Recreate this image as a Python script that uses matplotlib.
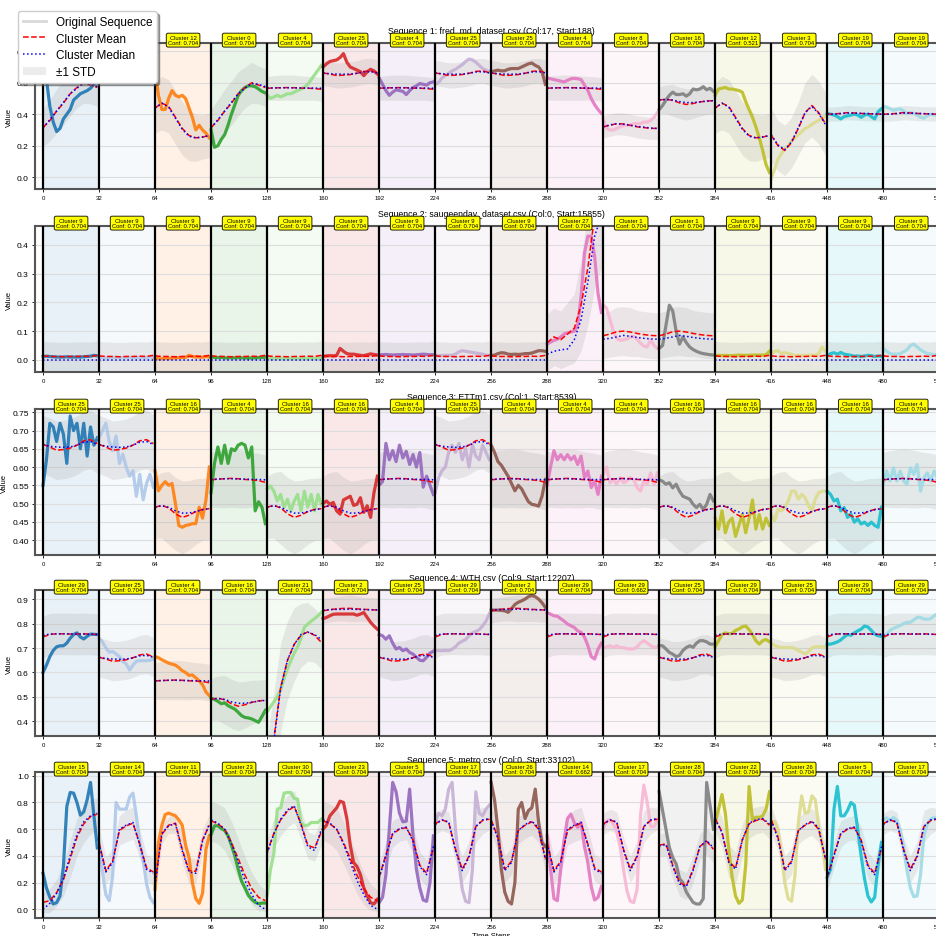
import numpy as np
import matplotlib
matplotlib.use("Agg")
import matplotlib.pyplot as plt
from matplotlib.lines import Line2D
from matplotlib.patches import Patch

plt.rcParams["font.family"] = ["Liberation Sans", "DejaVu Sans"]

seg_len = 32
n_segs = 16

seq_titles = [
    "Sequence 1: fred_md_dataset.csv (Col:17, Start:188)",
    "Sequence 2: saugeenday_dataset.csv (Col:0, Start:15855)",
    "Sequence 3: ETTm1.csv (Col:1, Start:8539)",
    "Sequence 4: WTH.csv (Col:9, Start:12207)",
    "Sequence 5: metro.csv (Col:0, Start:33102)",
]

clusters_1 = [0, 29, 12, 0, 4, 25, 4, 25, 25, 4, 8, 16, 12, 3, 19, 19]
clusters_2 = [9, 9, 9, 9, 9, 9, 9, 9, 9, 27, 1, 1, 9, 9, 9, 9]
clusters_3 = [25, 25, 16, 4, 16, 16, 4, 25, 4, 4, 4, 16, 16, 16, 16, 4]
clusters_4 = [29, 25, 4, 16, 21, 2, 25, 29, 2, 29, 29, 25, 29, 25, 29, 29]
clusters_5 = [15, 14, 11, 23, 30, 23, 5, 17, 26, 14, 17, 28, 22, 26, 5, 17]

conf_1 = [0.704] * 12 + [0.521, 0.704, 0.704, 0.704]
conf_2 = [0.704] * 16
conf_3 = [0.704] * 16
conf_4 = [0.704] * 10 + [0.662] + [0.704] * 5
conf_5 = [0.704] * 9 + [0.662] + [0.704] * 6

# original sequences, 17 samples per 32-step window
orig_1 = [
    [0.80, 0.62, 0.45, 0.35, 0.29, 0.31, 0.37, 0.40, 0.43, 0.49, 0.51, 0.53, 0.54, 0.55, 0.565, 0.59, 0.63],
    [0.66, 0.68, 0.70, 0.72, 0.74, 0.73, 0.75, 0.76, 0.74, 0.72, 0.71, 0.73, 0.75, 0.76, 0.74, 0.72, 0.71],
    [0.68, 0.52, 0.43, 0.43, 0.50, 0.55, 0.52, 0.51, 0.52, 0.50, 0.44, 0.38, 0.30, 0.33, 0.30, 0.28, 0.25],
    [0.30, 0.19, 0.20, 0.24, 0.27, 0.33, 0.40, 0.46, 0.52, 0.55, 0.57, 0.58, 0.58, 0.575, 0.56, 0.545, 0.535],
    [0.52, 0.50, 0.51, 0.52, 0.51, 0.52, 0.53, 0.53, 0.54, 0.55, 0.56, 0.57, 0.59, 0.62, 0.65, 0.68, 0.71],
    [0.70, 0.72, 0.735, 0.74, 0.745, 0.76, 0.785, 0.73, 0.70, 0.69, 0.68, 0.67, 0.645, 0.67, 0.685, 0.675, 0.655],
    [0.63, 0.59, 0.55, 0.52, 0.54, 0.555, 0.55, 0.545, 0.525, 0.55, 0.57, 0.58, 0.595, 0.59, 0.585, 0.60, 0.605],
    [0.59, 0.60, 0.63, 0.645, 0.66, 0.675, 0.685, 0.70, 0.715, 0.735, 0.75, 0.745, 0.73, 0.71, 0.69, 0.68, 0.67],
    [0.67, 0.675, 0.68, 0.675, 0.676, 0.685, 0.69, 0.69, 0.69, 0.70, 0.71, 0.72, 0.725, 0.71, 0.70, 0.67, 0.59],
    [0.63, 0.625, 0.62, 0.615, 0.61, 0.605, 0.615, 0.625, 0.628, 0.625, 0.62, 0.585, 0.55, 0.50, 0.46, 0.43, 0.405],
    [0.37, 0.31, 0.30, 0.30, 0.31, 0.32, 0.33, 0.33, 0.33, 0.34, 0.34, 0.34, 0.35, 0.35, 0.36, 0.38, 0.41],
    [0.43, 0.455, 0.49, 0.52, 0.54, 0.525, 0.525, 0.53, 0.515, 0.53, 0.56, 0.555, 0.56, 0.575, 0.555, 0.565, 0.545],
    [0.52, 0.56, 0.565, 0.57, 0.56, 0.56, 0.555, 0.55, 0.54, 0.48, 0.43, 0.38, 0.32, 0.25, 0.17, 0.08, 0.03],
    [-0.01, 0.05, 0.115, 0.15, 0.18, 0.20, 0.23, 0.25, 0.27, 0.29, 0.31, 0.32, 0.335, 0.35, 0.36, 0.375, 0.39],
    [0.405, 0.40, 0.395, 0.385, 0.37, 0.385, 0.39, 0.395, 0.40, 0.395, 0.38, 0.395, 0.40, 0.385, 0.37, 0.415, 0.435],
    [0.45, 0.445, 0.435, 0.425, 0.43, 0.435, 0.42, 0.405, 0.41, 0.405, 0.395, 0.38, 0.375, 0.39, 0.40, 0.395, 0.395],
]
orig_2 = [
    [0.012, 0.013, 0.012, 0.011, 0.010, 0.010, 0.010, 0.011, 0.010, 0.010, 0.010, 0.010, 0.011, 0.012, 0.013, 0.016, 0.014],
    [0.008, 0.008, 0.007, 0.008, 0.008, 0.009, 0.008, 0.008, 0.008, 0.009, 0.008, 0.008, 0.008, 0.009, 0.008, 0.010, 0.009],
    [0.005, 0.004, 0.004, 0.005, 0.005, 0.006, 0.007, 0.008, 0.008, 0.009, 0.016, 0.012, 0.010, 0.010, 0.009, 0.012, 0.010],
    [0.010, 0.009, 0.008, 0.009, 0.007, 0.007, 0.008, 0.007, 0.008, 0.007, 0.007, 0.006, 0.007, 0.007, 0.008, 0.009, 0.009],
    [0.006, 0.005, 0.005, 0.005, 0.005, 0.004, 0.004, 0.005, 0.005, 0.004, 0.004, 0.005, 0.005, 0.005, 0.005, 0.006, 0.006],
    [0.012, 0.014, 0.015, 0.014, 0.016, 0.040, 0.030, 0.022, 0.020, 0.020, 0.018, 0.016, 0.015, 0.018, 0.021, 0.019, 0.017],
    [0.018, 0.018, 0.019, 0.018, 0.017, 0.018, 0.018, 0.019, 0.018, 0.018, 0.017, 0.018, 0.019, 0.020, 0.019, 0.018, 0.018],
    [0.016, 0.015, 0.015, 0.016, 0.016, 0.016, 0.020, 0.028, 0.032, 0.030, 0.028, 0.026, 0.024, 0.022, 0.020, 0.017, 0.015],
    [0.015, 0.017, 0.022, 0.025, 0.024, 0.020, 0.019, 0.020, 0.019, 0.020, 0.022, 0.022, 0.024, 0.028, 0.032, 0.032, 0.030],
    [0.055, 0.062, 0.068, 0.072, 0.080, 0.090, 0.094, 0.097, 0.100, 0.120, 0.220, 0.370, 0.430, 0.430, 0.360, 0.230, 0.165],
    [0.190, 0.180, 0.140, 0.100, 0.075, 0.068, 0.070, 0.073, 0.080, 0.082, 0.073, 0.058, 0.048, 0.045, 0.070, 0.050, 0.040],
    [0.040, 0.050, 0.120, 0.190, 0.170, 0.100, 0.055, 0.080, 0.060, 0.045, 0.036, 0.030, 0.025, 0.022, 0.020, 0.018, 0.017],
    [0.015, 0.016, 0.015, 0.016, 0.015, 0.015, 0.016, 0.017, 0.016, 0.016, 0.016, 0.017, 0.017, 0.017, 0.017, 0.018, 0.030],
    [0.020, 0.030, 0.032, 0.022, 0.025, 0.022, 0.020, 0.015, 0.016, 0.015, 0.016, 0.016, 0.017, 0.016, 0.022, 0.045, 0.030],
    [0.015, 0.022, 0.025, 0.020, 0.026, 0.020, 0.018, 0.016, 0.013, 0.014, 0.012, 0.014, 0.016, 0.015, 0.012, 0.014, 0.012],
    [0.040, 0.030, 0.022, 0.020, 0.020, 0.022, 0.028, 0.035, 0.050, 0.055, 0.045, 0.035, 0.028, 0.022, 0.020, 0.018, 0.020],
]
orig_3 = [
    [0.55, 0.62, 0.72, 0.71, 0.67, 0.72, 0.69, 0.61, 0.74, 0.70, 0.72, 0.65, 0.72, 0.63, 0.71, 0.66, 0.68],
    [0.68, 0.70, 0.72, 0.67, 0.645, 0.685, 0.61, 0.635, 0.60, 0.575, 0.59, 0.52, 0.58, 0.51, 0.555, 0.58, 0.545],
    [0.59, 0.535, 0.55, 0.56, 0.55, 0.555, 0.50, 0.44, 0.435, 0.44, 0.442, 0.445, 0.445, 0.49, 0.46, 0.51, 0.60],
    [0.53, 0.61, 0.655, 0.61, 0.66, 0.61, 0.65, 0.645, 0.66, 0.665, 0.66, 0.625, 0.655, 0.48, 0.505, 0.49, 0.445],
    [0.54, 0.548, 0.534, 0.507, 0.525, 0.489, 0.512, 0.48, 0.507, 0.525, 0.48, 0.534, 0.49, 0.525, 0.48, 0.525, 0.498],
    [0.50, 0.507, 0.498, 0.503, 0.48, 0.471, 0.51, 0.515, 0.52, 0.495, 0.498, 0.516, 0.476, 0.494, 0.462, 0.53, 0.575],
    [0.55, 0.56, 0.665, 0.62, 0.645, 0.615, 0.66, 0.625, 0.643, 0.607, 0.634, 0.60, 0.64, 0.545, 0.575, 0.55, 0.525],
    [0.53, 0.57, 0.59, 0.60, 0.64, 0.66, 0.64, 0.665, 0.62, 0.65, 0.60, 0.66, 0.63, 0.62, 0.66, 0.64, 0.62],
    [0.66, 0.64, 0.615, 0.605, 0.59, 0.575, 0.555, 0.535, 0.55, 0.54, 0.522, 0.505, 0.498, 0.496, 0.493, 0.52, 0.566],
    [0.55, 0.60, 0.645, 0.62, 0.634, 0.62, 0.634, 0.62, 0.63, 0.607, 0.63, 0.571, 0.589, 0.544, 0.562, 0.525, 0.575],
    [0.58, 0.60, 0.557, 0.566, 0.553, 0.571, 0.557, 0.562, 0.571, 0.566, 0.544, 0.534, 0.562, 0.553, 0.584, 0.553, 0.584],
    [0.565, 0.561, 0.553, 0.557, 0.543, 0.553, 0.534, 0.52, 0.516, 0.512, 0.498, 0.489, 0.498, 0.484, 0.498, 0.525, 0.507],
    [0.46, 0.43, 0.48, 0.42, 0.45, 0.46, 0.41, 0.44, 0.47, 0.42, 0.46, 0.51, 0.43, 0.47, 0.43, 0.46, 0.44],
    [0.47, 0.452, 0.485, 0.48, 0.489, 0.507, 0.534, 0.534, 0.512, 0.525, 0.516, 0.494, 0.48, 0.512, 0.53, 0.534, 0.534],
    [0.534, 0.525, 0.507, 0.512, 0.48, 0.489, 0.462, 0.471, 0.449, 0.458, 0.444, 0.449, 0.44, 0.449, 0.44, 0.435, 0.49],
    [0.553, 0.589, 0.562, 0.598, 0.562, 0.589, 0.562, 0.553, 0.598, 0.58, 0.607, 0.534, 0.57, 0.584, 0.562, 0.589, 0.57],
]
orig_4 = [
    [0.60, 0.63, 0.665, 0.69, 0.705, 0.709, 0.709, 0.72, 0.74, 0.755, 0.762, 0.745, 0.737, 0.748, 0.757, 0.756, 0.755],
    [0.74, 0.725, 0.70, 0.683, 0.686, 0.676, 0.665, 0.645, 0.635, 0.61, 0.63, 0.646, 0.648, 0.648, 0.648, 0.65, 0.655],
    [0.665, 0.66, 0.652, 0.645, 0.638, 0.634, 0.63, 0.62, 0.607, 0.60, 0.588, 0.59, 0.578, 0.566, 0.55, 0.52, 0.505],
    [0.495, 0.49, 0.482, 0.472, 0.476, 0.464, 0.457, 0.45, 0.437, 0.423, 0.416, 0.414, 0.41, 0.403, 0.396, 0.42, 0.445],
    [0.44, 0.46, 0.48, 0.50, 0.53, 0.575, 0.615, 0.648, 0.68, 0.705, 0.74, 0.785, 0.798, 0.81, 0.82, 0.832, 0.846],
    [0.82, 0.825, 0.832, 0.838, 0.839, 0.839, 0.839, 0.839, 0.839, 0.839, 0.834, 0.839, 0.845, 0.825, 0.805, 0.79, 0.777],
    [0.755, 0.75, 0.736, 0.75, 0.72, 0.696, 0.702, 0.689, 0.696, 0.682, 0.675, 0.662, 0.65, 0.648, 0.662, 0.679, 0.687],
    [0.69, 0.689, 0.689, 0.69, 0.689, 0.695, 0.705, 0.72, 0.728, 0.735, 0.75, 0.762, 0.768, 0.775, 0.79, 0.81, 0.84],
    [0.855, 0.855, 0.855, 0.854, 0.852, 0.846, 0.86, 0.878, 0.887, 0.893, 0.90, 0.91, 0.914, 0.91, 0.90, 0.885, 0.866],
    [0.845, 0.838, 0.832, 0.83, 0.82, 0.81, 0.798, 0.791, 0.784, 0.77, 0.764, 0.745, 0.71, 0.665, 0.655, 0.695, 0.72],
    [0.70, 0.705, 0.709, 0.703, 0.709, 0.702, 0.702, 0.697, 0.696, 0.696, 0.705, 0.72, 0.73, 0.72, 0.71, 0.703, 0.703],
    [0.71, 0.709, 0.696, 0.682, 0.675, 0.665, 0.67, 0.69, 0.702, 0.709, 0.703, 0.72, 0.73, 0.73, 0.725, 0.716, 0.716],
    [0.705, 0.73, 0.755, 0.762, 0.758, 0.76, 0.772, 0.778, 0.787, 0.79, 0.775, 0.755, 0.73, 0.716, 0.73, 0.735, 0.725],
    [0.72, 0.71, 0.705, 0.702, 0.702, 0.702, 0.702, 0.698, 0.69, 0.683, 0.676, 0.685, 0.70, 0.705, 0.705, 0.705, 0.705],
    [0.715, 0.716, 0.72, 0.725, 0.733, 0.745, 0.755, 0.752, 0.762, 0.77, 0.777, 0.79, 0.786, 0.772, 0.757, 0.75, 0.748],
    [0.74, 0.755, 0.772, 0.78, 0.786, 0.792, 0.80, 0.805, 0.805, 0.815, 0.825, 0.825, 0.818, 0.818, 0.82, 0.832, 0.84],
]
orig_5 = [
    [0.27, 0.16, 0.09, 0.04, 0.05, 0.10, 0.32, 0.77, 0.875, 0.87, 0.80, 0.705, 0.73, 0.82, 0.95, 0.70, 0.46],
    [0.50, 0.28, 0.11, 0.065, 0.25, 0.80, 0.75, 0.75, 0.75, 0.84, 0.87, 0.70, 0.50, 0.37, 0.19, 0.09, 0.05],
    [0.15, 0.50, 0.63, 0.71, 0.72, 0.71, 0.70, 0.67, 0.63, 0.48, 0.39, 0.20, 0.08, 0.045, 0.12, 0.45, 0.55],
    [0.56, 0.625, 0.626, 0.605, 0.59, 0.55, 0.48, 0.40, 0.30, 0.21, 0.16, 0.105, 0.075, 0.052, 0.042, 0.047, 0.047],
    [0.10, 0.30, 0.42, 0.75, 0.76, 0.87, 0.875, 0.875, 0.83, 0.825, 0.65, 0.626, 0.63, 0.65, 0.65, 0.65, 0.676],
    [0.60, 0.63, 0.70, 0.73, 0.76, 0.81, 0.80, 0.68, 0.48, 0.35, 0.32, 0.26, 0.16, 0.10, 0.05, 0.04, 0.075],
    [0.05, 0.09, 0.26, 0.60, 0.95, 0.88, 0.72, 0.655, 0.66, 0.90, 0.55, 0.30, 0.16, 0.07, 0.06, 0.20, 0.55],
    [0.65, 0.72, 0.70, 0.75, 0.90, 0.95, 0.60, 0.35, 0.15, 0.06, 0.05, 0.30, 0.88, 0.72, 0.70, 0.75, 0.78],
    [0.95, 0.82, 0.60, 0.30, 0.13, 0.06, 0.04, 0.20, 0.75, 0.80, 0.68, 0.74, 0.76, 0.90, 0.65, 0.50, 0.47],
    [0.55, 0.30, 0.08, 0.065, 0.30, 0.52, 0.68, 0.713, 0.65, 0.614, 0.65, 0.47, 0.35, 0.17, 0.07, 0.09, 0.17],
    [0.60, 0.66, 0.67, 0.64, 0.58, 0.47, 0.30, 0.14, 0.06, 0.05, 0.15, 0.70, 0.93, 0.80, 0.62, 0.62, 0.67],
    [0.88, 0.74, 0.60, 0.46, 0.385, 0.34, 0.23, 0.20, 0.13, 0.09, 0.052, 0.04, 0.04, 0.08, 0.95, 0.78, 0.60],
    [0.65, 0.75, 0.86, 0.72, 0.45, 0.24, 0.10, 0.045, 0.07, 0.33, 0.92, 0.67, 0.69, 0.688, 0.70, 0.75, 0.88],
    [0.63, 0.66, 0.60, 0.42, 0.20, 0.08, 0.06, 0.25, 0.65, 0.85, 0.72, 0.73, 0.85, 0.82, 0.62, 0.50, 0.30],
    [0.24, 0.30, 0.75, 0.92, 0.70, 0.70, 0.74, 0.80, 0.78, 0.60, 0.40, 0.23, 0.10, 0.055, 0.09, 0.33, 0.50],
    [0.67, 0.685, 0.665, 0.688, 0.665, 0.59, 0.47, 0.29, 0.16, 0.095, 0.10, 0.26, 0.55, 0.64, 0.675, 0.688, 0.676],
]

# cluster profiles, 9 samples per window
cluster_mean = {
    0: [0.315, 0.36, 0.42, 0.47, 0.53, 0.57, 0.60, 0.585, 0.57],
    1: [0.084, 0.09, 0.098, 0.10, 0.097, 0.092, 0.088, 0.085, 0.084],
    2: [0.852, 0.857, 0.86, 0.862, 0.862, 0.86, 0.858, 0.857, 0.855],
    3: [0.266, 0.20, 0.17, 0.22, 0.31, 0.41, 0.455, 0.41, 0.34],
    4: [0.565, 0.567, 0.568, 0.569, 0.568, 0.566, 0.565, 0.563, 0.558],
    5: [0.24, 0.41, 0.565, 0.60, 0.612, 0.52, 0.33, 0.27, 0.46],
    8: [0.32, 0.33, 0.34, 0.338, 0.33, 0.32, 0.315, 0.31, 0.31],
    9: [0.014, 0.012, 0.012, 0.011, 0.012, 0.012, 0.013, 0.012, 0.016],
    11: [0.20, 0.56, 0.63, 0.645, 0.45, 0.29, 0.285, 0.52, 0.63],
    12: [0.44, 0.47, 0.45, 0.38, 0.31, 0.265, 0.25, 0.255, 0.265],
    14: [0.50, 0.29, 0.36, 0.59, 0.625, 0.645, 0.49, 0.31, 0.28],
    15: [0.052, 0.065, 0.125, 0.22, 0.38, 0.54, 0.64, 0.695, 0.713],
    16: [0.49, 0.495, 0.488, 0.472, 0.462, 0.468, 0.478, 0.484, 0.486],
    17: [0.64, 0.67, 0.65, 0.45, 0.30, 0.40, 0.62, 0.665, 0.675],
    19: [0.40, 0.402, 0.405, 0.41, 0.408, 0.405, 0.403, 0.402, 0.40],
    21: [0.12, 0.33, 0.54, 0.65, 0.715, 0.752, 0.766, 0.752, 0.723],
    22: [0.68, 0.58, 0.36, 0.31, 0.52, 0.64, 0.665, 0.676, 0.63],
    23: [0.663, 0.64, 0.60, 0.50, 0.38, 0.255, 0.155, 0.09, 0.065],
    25: [0.662, 0.655, 0.646, 0.648, 0.652, 0.66, 0.672, 0.675, 0.664],
    26: [0.67, 0.54, 0.30, 0.36, 0.59, 0.63, 0.655, 0.60, 0.38],
    27: [0.06, 0.08, 0.07, 0.09, 0.11, 0.19, 0.32, 0.50, 0.62],
    28: [0.48, 0.49, 0.33, 0.20, 0.175, 0.30, 0.47, 0.51, 0.45],
    29: [0.745, 0.756, 0.758, 0.758, 0.757, 0.757, 0.758, 0.757, 0.755],
    30: [0.426, 0.57, 0.67, 0.735, 0.77, 0.64, 0.48, 0.46, 0.58],
}
cluster_median = {
    0: [0.315, 0.365, 0.42, 0.475, 0.53, 0.565, 0.595, 0.59, 0.575],
    1: [0.072, 0.075, 0.08, 0.085, 0.082, 0.078, 0.075, 0.073, 0.072],
    2: [0.855, 0.857, 0.858, 0.858, 0.859, 0.858, 0.857, 0.856, 0.856],
    3: [0.27, 0.205, 0.175, 0.225, 0.315, 0.41, 0.45, 0.405, 0.335],
    4: [0.566, 0.567, 0.568, 0.568, 0.567, 0.567, 0.566, 0.566, 0.565],
    5: [0.235, 0.40, 0.57, 0.605, 0.615, 0.51, 0.32, 0.26, 0.47],
    8: [0.32, 0.332, 0.34, 0.336, 0.33, 0.322, 0.318, 0.312, 0.31],
    9: [0.001, 0.001, 0.001, 0.001, 0.001, 0.001, 0.001, 0.001, 0.001],
    11: [0.18, 0.57, 0.625, 0.64, 0.44, 0.28, 0.27, 0.51, 0.64],
    12: [0.44, 0.47, 0.445, 0.375, 0.305, 0.26, 0.25, 0.255, 0.265],
    14: [0.49, 0.28, 0.35, 0.60, 0.63, 0.65, 0.48, 0.30, 0.27],
    15: [0.0, 0.045, 0.12, 0.23, 0.40, 0.56, 0.655, 0.70, 0.72],
    16: [0.49, 0.494, 0.49, 0.48, 0.474, 0.474, 0.478, 0.483, 0.486],
    17: [0.635, 0.67, 0.655, 0.44, 0.29, 0.39, 0.62, 0.67, 0.68],
    19: [0.40, 0.40, 0.404, 0.408, 0.407, 0.405, 0.404, 0.402, 0.40],
    21: [0.11, 0.32, 0.535, 0.65, 0.715, 0.755, 0.765, 0.755, 0.735],
    22: [0.675, 0.575, 0.35, 0.30, 0.52, 0.645, 0.67, 0.68, 0.64],
    23: [0.67, 0.645, 0.60, 0.49, 0.355, 0.215, 0.11, 0.03, 0.0],
    25: [0.662, 0.657, 0.655, 0.654, 0.655, 0.66, 0.668, 0.67, 0.662],
    26: [0.665, 0.53, 0.29, 0.35, 0.59, 0.635, 0.66, 0.61, 0.37],
    27: [0.02, 0.03, 0.035, 0.038, 0.07, 0.14, 0.27, 0.43, 0.50],
    28: [0.475, 0.485, 0.32, 0.19, 0.17, 0.29, 0.47, 0.515, 0.46],
    29: [0.752, 0.757, 0.758, 0.758, 0.758, 0.757, 0.757, 0.756, 0.756],
    30: [0.42, 0.565, 0.675, 0.745, 0.775, 0.63, 0.47, 0.44, 0.60],
}
cluster_std = {
    0: [0.12, 0.13, 0.14, 0.14, 0.14, 0.13, 0.13, 0.12, 0.12],
    1: [0.08, 0.08, 0.085, 0.085, 0.085, 0.08, 0.08, 0.08, 0.08],
    2: [0.05, 0.05, 0.05, 0.052, 0.055, 0.052, 0.05, 0.05, 0.05],
    3: [0.17, 0.16, 0.16, 0.16, 0.17, 0.19, 0.20, 0.20, 0.20],
    4: [0.075, 0.078, 0.08, 0.08, 0.08, 0.078, 0.075, 0.075, 0.075],
    5: [0.10, 0.10, 0.10, 0.09, 0.09, 0.10, 0.10, 0.10, 0.10],
    8: [0.07, 0.07, 0.07, 0.07, 0.07, 0.07, 0.07, 0.07, 0.07],
    9: [0.05, 0.05, 0.05, 0.05, 0.05, 0.05, 0.05, 0.05, 0.05],
    11: [0.10, 0.07, 0.06, 0.08, 0.10, 0.10, 0.09, 0.08, 0.08],
    12: [0.16, 0.17, 0.17, 0.17, 0.17, 0.16, 0.15, 0.14, 0.14],
    14: [0.12, 0.10, 0.10, 0.11, 0.12, 0.12, 0.11, 0.10, 0.10],
    15: [0.08, 0.09, 0.10, 0.12, 0.14, 0.14, 0.14, 0.13, 0.12],
    16: [0.085, 0.09, 0.10, 0.10, 0.10, 0.095, 0.09, 0.085, 0.085],
    17: [0.08, 0.08, 0.08, 0.09, 0.10, 0.11, 0.12, 0.10, 0.08],
    19: [0.045, 0.045, 0.045, 0.045, 0.045, 0.045, 0.045, 0.045, 0.045],
    21: [0.20, 0.19, 0.18, 0.16, 0.15, 0.13, 0.12, 0.11, 0.11],
    22: [0.10, 0.11, 0.12, 0.12, 0.12, 0.11, 0.10, 0.10, 0.10],
    23: [0.15, 0.15, 0.16, 0.16, 0.15, 0.14, 0.12, 0.10, 0.08],
    25: [0.08, 0.08, 0.08, 0.08, 0.08, 0.08, 0.08, 0.08, 0.08],
    26: [0.10, 0.10, 0.10, 0.10, 0.10, 0.10, 0.10, 0.10, 0.10],
    27: [0.10, 0.10, 0.10, 0.11, 0.12, 0.16, 0.20, 0.25, 0.30],
    28: [0.08, 0.09, 0.10, 0.10, 0.10, 0.10, 0.10, 0.10, 0.10],
    29: [0.085, 0.085, 0.085, 0.085, 0.085, 0.085, 0.085, 0.085, 0.085],
    30: [0.10, 0.11, 0.12, 0.12, 0.12, 0.11, 0.10, 0.10, 0.10],
}

y_limits = [(-0.075, 0.852), (-0.042, 0.465), (0.359, 0.759), (0.34, 0.937), (-0.065, 1.028)]
y_ticks = [
    [0.0, 0.2, 0.4, 0.6, 0.8],
    [0.0, 0.1, 0.2, 0.3, 0.4],
    [0.40, 0.45, 0.50, 0.55, 0.60, 0.65, 0.70, 0.75],
    [0.4, 0.5, 0.6, 0.7, 0.8, 0.9],
    [0.0, 0.2, 0.4, 0.6, 0.8, 1.0],
]
y_fmt = ["%.1f", "%.1f", "%.2f", "%.1f", "%.1f"]

all_clusters = [clusters_1, clusters_2, clusters_3, clusters_4, clusters_5]
all_conf = [conf_1, conf_2, conf_3, conf_4, conf_5]
all_orig = [orig_1, orig_2, orig_3, orig_4, orig_5]

seg_colors = plt.cm.tab20(np.linspace(0, 1, n_segs))

fig = plt.figure(figsize=(9.36, 9.37), dpi=100)
bottoms = [0.7972, 0.6019, 0.4066, 0.2134, 0.0192]
ax_h = 0.1558

for p in range(5):
    ax = fig.add_axes([0.0374, bottoms[p], 0.9754, ax_h])
    for s in range(n_segs):
        x0 = s * seg_len
        c = seg_colors[s]
        ax.axvspan(x0, x0 + seg_len, color=c, alpha=0.1, lw=0, zorder=0.5)

        cid = all_clusters[p][s]
        xm = x0 + np.linspace(0, seg_len - 1, 9)
        m = np.array(cluster_mean[cid])
        md = np.array(cluster_median[cid])
        sd = np.array(cluster_std[cid])
        ax.fill_between(xm, m - sd, m + sd, color="gray", alpha=0.15, lw=0, zorder=1)

        xo = x0 + np.linspace(0, seg_len - 1, 17)
        ax.plot(xo, all_orig[p][s], color=c, lw=2.3, alpha=0.9, zorder=2)
        ax.plot(xm, m, color="red", ls="--", lw=1.1, zorder=3)
        ax.plot(xm, md, color="blue", ls=":", lw=1.1, zorder=3.5)

        ax.axvline(x0, color="black", lw=1.6, zorder=4)

        ax.text(x0 + seg_len / 2, 1.02, f"Cluster {cid}\nConf: {all_conf[p][s]:.3f}",
                transform=ax.get_xaxis_transform(), ha="center", va="center",
                fontsize=4.2, linespacing=1.1, zorder=6, clip_on=False,
                bbox=dict(boxstyle="round,pad=0.3", fc="yellow", ec="black", lw=0.6))
    ax.axvline(n_segs * seg_len, color="black", lw=1.6, zorder=4)

    ax.set_xlim(-4.6, 517)
    ax.set_ylim(*y_limits[p])
    ax.set_xticks(np.arange(0, n_segs * seg_len + 1, seg_len))
    ax.set_yticks(y_ticks[p])
    ax.yaxis.set_major_formatter(matplotlib.ticker.FormatStrFormatter(y_fmt[p]))
    ax.tick_params(axis="x", labelsize=4.3, length=2.5, width=0.6, pad=2)
    ax.tick_params(axis="y", labelsize=6, length=2.5, width=0.6, pad=2)
    ax.grid(axis="y", color="#dddddd", lw=0.8, zorder=0)
    ax.set_axisbelow(True)
    for sp in ax.spines.values():
        sp.set_color("#555555")
        sp.set_linewidth(1.5)
    ax.set_ylabel("Value", fontsize=5.5, labelpad=3)
    ax.set_title(seq_titles[p], fontsize=6.3, pad=7.5)
    if p == 4:
        ax.set_xlabel("Time Steps", fontsize=5.5, labelpad=2)

handles = [
    Line2D([], [], color="gray", alpha=0.3, lw=2, label="Original Sequence"),
    Line2D([], [], color="red", ls="--", lw=1.1, label="Cluster Mean"),
    Line2D([], [], color="blue", ls=":", lw=1.1, label="Cluster Median"),
    Patch(facecolor="gray", alpha=0.15, label="±1 STD"),
]
fig.legend(handles=handles, loc="upper left", bbox_to_anchor=(0.019, 0.987),
           fontsize=8.5, shadow=True, framealpha=1, borderaxespad=0,
           labelspacing=0.4)

fig.savefig("out.png", dpi=100)
